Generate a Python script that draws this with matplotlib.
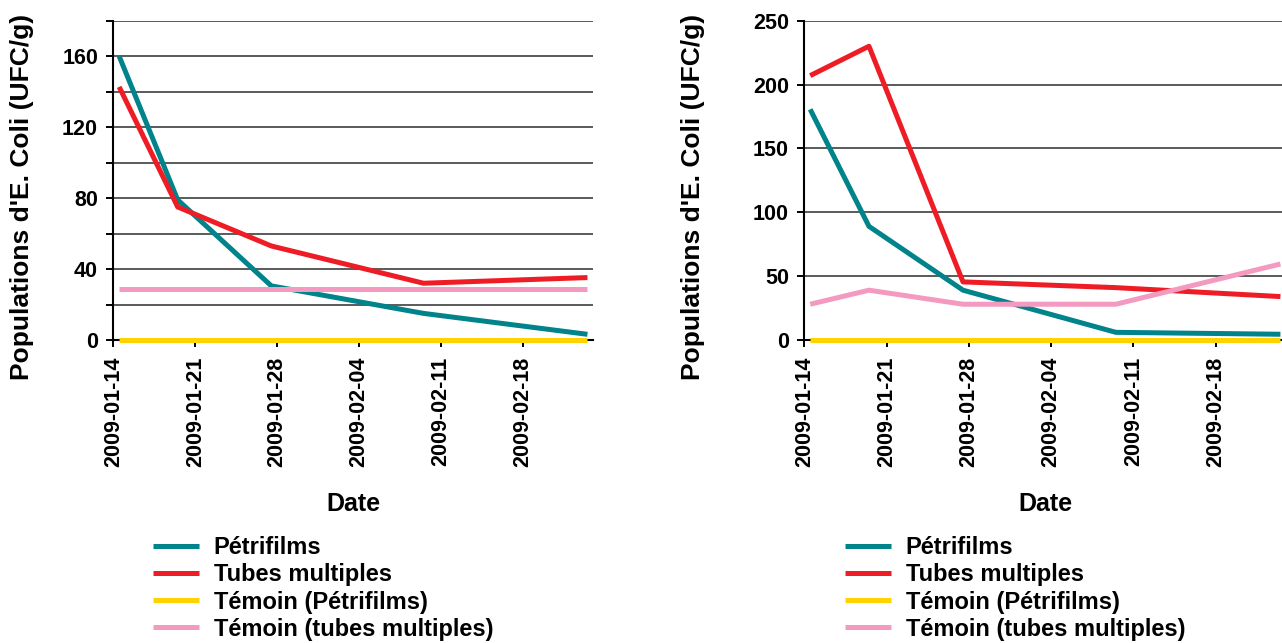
import matplotlib
matplotlib.use("Agg")
import matplotlib.pyplot as plt
import matplotlib.dates as mdates
import numpy as np

plt.rcParams['font.family'] = ['Liberation Sans', 'DejaVu Sans']
plt.rcParams['font.weight'] = 'bold'

# data (samples taken around midday)
dates = np.array(['2009-01-14T12', '2009-01-19T12', '2009-01-27T12', '2009-02-09T12', '2009-02-23T12'],
                 dtype='datetime64[h]')
petri_left = [160, 79, 30.5, 15, 3.2]
tubes_left = [142.7, 75, 53, 32, 35.2]
temoin_petri_left = [0, 0, 0, 0, 0]
temoin_tubes_left = [29, 29, 29, 29, 29]

petri_right = [180.6, 89, 39, 6, 4.5]
tubes_right = [207, 230, 45.5, 41, 34]
temoin_petri_right = [0, 0, 0, 0, 0]
temoin_tubes_right = [28, 39, 28, 28, 59.5]

labels = ['Pétrifilms', 'Tubes multiples', 'Témoin (Pétrifilms)', 'Témoin (tubes multiples)']
colors = ['#00838a', '#ee1c25', '#ffd200', '#f49ac1']

xstart = np.datetime64('2009-01-14')
xend = np.datetime64('2009-02-24')
tick_dates = np.arange(np.datetime64('2009-01-14'), np.datetime64('2009-02-19'), 7)

W, H = 1282, 643
fig = plt.figure(figsize=(W / 100, H / 100), dpi=100)


def panel(left_px, width_px, series, ymax, major, minor, legend_x, ylab_x):
    ax = fig.add_axes([left_px / W, 1 - 340 / H, width_px / W, (340 - 20.7) / H])
    for vals, c, lab in zip(series, colors, labels):
        ax.plot(dates, vals, color=c, lw=3.6, label=lab, clip_on=False, zorder=3,
                solid_capstyle='butt')
    ax.set_xlim(xstart, xend)
    ax.set_ylim(0, ymax)
    ax.set_yticks(np.arange(0, ymax + 1, major))
    if minor:
        ax.set_yticks(np.arange(minor, ymax + 1, major), minor=True)
        ax.tick_params(axis='y', which='minor', length=5, width=1.4, direction='out')
    ax.grid(axis='y', which='both', color='#2e2e2e', lw=1.1)
    ax.set_axisbelow(True)
    ax.set_xticks(tick_dates)
    ax.xaxis.set_major_formatter(mdates.DateFormatter('%Y-%m-%d'))
    ax.tick_params(axis='x', rotation=90, length=5, width=1.4, pad=7, labelsize=15.5)
    ax.tick_params(axis='y', which='major', length=5, width=1.4, pad=6, labelsize=15.5)
    for s in ['top', 'right']:
        ax.spines[s].set_visible(False)
    for s in ['left', 'bottom']:
        ax.spines[s].set_linewidth(1.5)
        ax.spines[s].set_color('black')
    ax.set_ylabel("Populations d'E. Coli (UFC/g)", fontsize=19, fontweight='bold')
    ax.yaxis.set_label_coords(ylab_x, 0.449)
    ax.set_xlabel('Date', fontsize=18, fontweight='bold')
    ax.xaxis.set_label_coords(0.5, -0.476)
    fig.legend(handles=ax.get_lines(), loc='upper left',
               bbox_to_anchor=(legend_x / W, 1 - 536 / H), frameon=False,
               handlelength=1.95, handletextpad=0.62,
               labelspacing=0.18, borderpad=0, borderaxespad=0,
               prop={'weight': 'bold', 'size': 17})
    return ax


panel(113.3, 480, [petri_left, tubes_left, temoin_petri_left, temoin_tubes_left],
      180, 40, 20, 153, -0.165)
panel(804.3, 482, [petri_right, tubes_right, temoin_petri_right, temoin_tubes_right],
      250, 50, None, 845, -0.206)

fig.savefig('out.png', dpi=100)
